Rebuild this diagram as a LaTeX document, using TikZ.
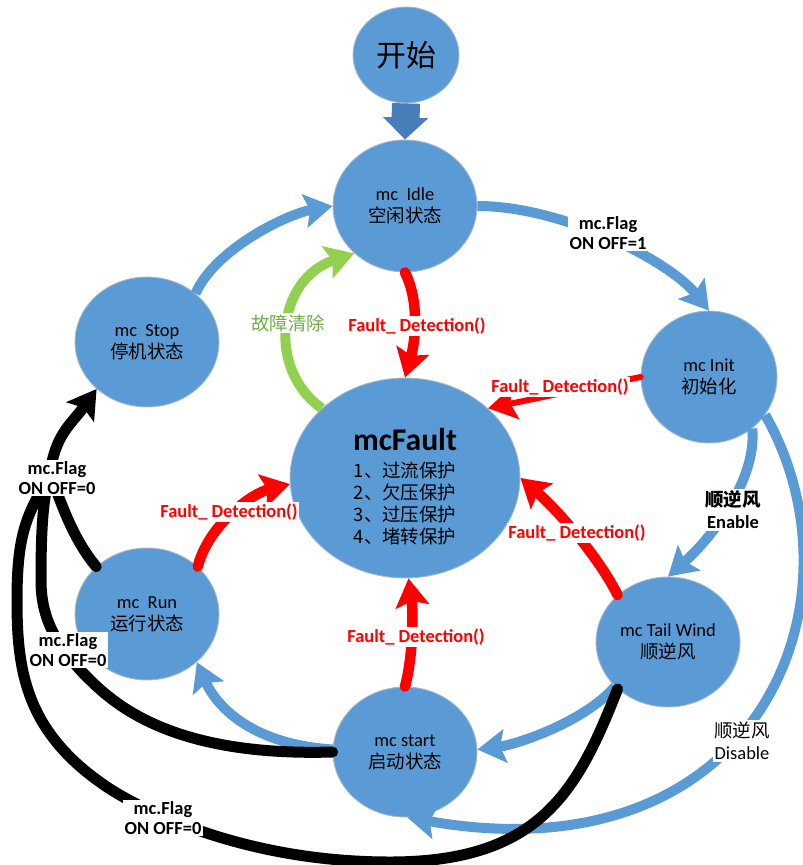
\documentclass[tikz,border=0pt]{standalone}
\usepackage{fontspec}
\setmainfont{Carlito}
\newfontfamily\zhfont{Noto Sans CJK SC}
\usepackage{xcolor}
\usepackage{tikz}
\usetikzlibrary{arrows.meta, shapes.geometric}
\definecolor{stateblue}{HTML}{5B9BD5}
\definecolor{stateborder}{HTML}{A9B8C8}
\definecolor{flowblue}{HTML}{5B9BD5}
\definecolor{beginarrow}{HTML}{4A7EBB}
\definecolor{faultred}{HTML}{FF0000}
\definecolor{cleargreen}{HTML}{92D050}
\definecolor{cleartext}{HTML}{70AD47}

\tikzset{
  state/.style={ellipse, fill=stateblue, draw=stateborder, line width=0.5pt,
    inner sep=0pt, align=center, font=\fontsize{10.5}{12.5}\selectfont},
  bigtip/.tip={Stealth[length=16pt, width=19pt, inset=3pt]},
  goflow/.style={draw=flowblue, line width=0.2cm, -bigtip},
  faultflow/.style={draw=faultred, line width=0.21cm, line cap=round, -bigtip},
  clearflow/.style={draw=cleargreen, line width=0.2cm, -bigtip},
  stopflow/.style={draw=black, line width=0.22cm, line cap=round},
  faultlbl/.style={fill=white, text=faultred, inner sep=1pt,
    font=\fontsize{10.5}{12}\selectfont\bfseries},
  flaglbl/.style={fill=white, inner sep=1pt, align=center,
    font=\fontsize{10.5}{11.5}\selectfont\bfseries},
  windlbl/.style={fill=white, inner sep=1pt, align=center,
    font=\fontsize{10.5}{12.5}\selectfont},
}

\begin{document}
\begin{tikzpicture}[x=0.02cm, y=-0.02cm]
\useasboundingbox (0,0) rectangle (803,865);

\node[state, minimum width=2.12cm, minimum height=1.92cm,
      font=\fontsize{17}{20}\selectfont\zhfont] (begin) at (406,55) {开始};
\node[state, minimum width=2.88cm, minimum height=2.64cm] (idle) at (405,206)
  {mc~~Idle\\{\zhfont 空闲状态}};
\node[state, minimum width=2.88cm, minimum height=2.6cm] (stop) at (147,342)
  {mc~~Stop\\{\zhfont 停机状态}};
\node[state, minimum width=2.72cm, minimum height=2.64cm] (init) at (709,377)
  {mc Init\\{\zhfont 初始化}};
\node[state, minimum width=4.6cm, minimum height=4cm] (fault) at (405,478)
  {\rule{0pt}{22pt}{\fontsize{18}{20}\selectfont\bfseries mcFault}\\[3pt]
   {\zhfont 1、过流保护}\\{\zhfont 2、欠压保护}\\
   {\zhfont 3、过压保护}\\{\zhfont 4、堵转保护}};
\node[state, minimum width=2.88cm, minimum height=2.64cm] (run) at (147,614)
  {mc~~Run\\{\zhfont 运行状态}};
\node[state, minimum width=2.88cm, minimum height=2.6cm] (tail) at (668,642)
  {mc Tail Wind\\{\zhfont 顺逆风}};
\node[state, minimum width=2.88cm, minimum height=2.6cm] (start) at (405,752)
  {mc start\\{\zhfont 启动状态}};

\draw[draw=beginarrow, line width=0.56cm,
      -{Triangle[length=0.44cm, width=0.88cm]}] (begin.south) -- (idle.north);

\draw[goflow] (stop.45) .. controls +(20,-45) and +(-45,8) .. (idle.180);
\draw[goflow] (idle.0) .. controls +(85,0) and +(-40,-50) .. (init.90);
\draw[goflow] (init.-50) .. controls +(5,50) and +(45,-40) .. (tail.90);
\draw[goflow] (init.-34) .. controls +(105,185) and +(353,62) .. (start.-88);
\draw[goflow] (tail.-140) .. controls +(-30,35) and +(40,-5) .. (start.2);
\draw[goflow] (start.178) .. controls +(-80,-5) and +(20,45) .. (run.-44);

\draw[faultflow] (idle.-90) .. controls +(15,30) and +(10,-35) .. (fault.90);
\draw[faultflow, line width=0.12cm] (init.180) -- (fault.40);
\draw[faultflow] (tail.137) .. controls +(-20,-40) and +(35,30) .. (fault.0);
\draw[faultflow] (start.90) .. controls +(8,-30) and +(5,35) .. (fault.-88);
\draw[faultflow] (run.43) .. controls +(10,-40) and +(-40,10) .. (fault.-177);

\draw[clearflow] (fault.140) .. controls +(-55,-38) and +(-78,26) .. (idle.-137);

\coordinate (flagjoin) at (50,474);
\draw[stopflow] (run.137) .. controls +(-25,-30) and +(10,25) .. (flagjoin);
\draw[stopflow] (start.180) .. controls +(-170,5) and +(25,25) .. (83,673)
  .. controls +(-30,-32) and +(0,35) .. (41,580)
  .. controls +(0,-40) and +(-8,26) .. (flagjoin);
\draw[stopflow] (tail.-137) .. controls +(-40,102) and +(150,0) .. (390,862)
  .. controls +(-150,0) and +(30,20) .. (107,787)
  .. controls +(-82,-55) and +(0,70) .. (17,600)
  .. controls +(0,-70) and +(-22,40) .. (flagjoin);
\draw[stopflow, -bigtip] (flagjoin) .. controls +(5,-40) and +(-25,35) .. (stop.-137);

\node[faultlbl] (fdidle) at (417,326) {Fault\_ Detection()};
\node[faultlbl] (fdinit) at (560,387) {Fault\_ Detection()};
\node[faultlbl] (fdrun) at (229,512) {Fault\_ Detection()};
\node[faultlbl] (fdtail) at (577,533) {Fault\_ Detection()};
\node[faultlbl] (fdstart) at (416,637) {Fault\_ Detection()};
\node[fill=white, inner sep=1pt, text=cleartext,
      font=\fontsize{10.5}{12}\selectfont\zhfont] (clear) at (288,323) {故障清除};
\node[flaglbl] (flagon) at (608,233) {mc.Flag\\ON OFF=1};
\node[flaglbl] (flagrun) at (57,478) {mc.Flag\\ON OFF=0};
\node[flaglbl] (flagstart) at (68,650) {mc.Flag\\ON OFF=0};
\node[flaglbl] (flagtail) at (163,818) {mc.Flag\\ON OFF=0};
\node[windlbl, font=\fontsize{10.5}{12.5}\selectfont\bfseries] (enable) at (733,510)
  {{\zhfont 顺逆风}\\Enable};
\node[windlbl] (disable) at (742,741) {{\zhfont 顺逆风}\\Disable};
\end{tikzpicture}
\end{document}
